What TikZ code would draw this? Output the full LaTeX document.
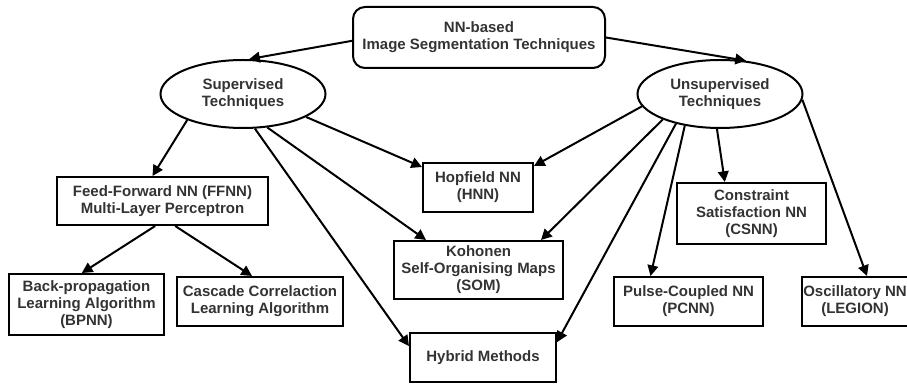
\documentclass[tikz,border=0pt]{standalone}
\usepackage{fontspec}
\setmainfont{Liberation Sans}
\usetikzlibrary{shapes.geometric,arrows.meta}
\begin{document}
\begin{tikzpicture}[x=0.75pt,y=-0.75pt,
		font=\fontsize{11.25pt}{12.75pt}\selectfont\bfseries,
		every node/.style={text=black!80,align=center,inner sep=0pt,line width=1.5pt,draw=black},
		box/.style={rectangle,minimum width=#1},
		oval/.style={ellipse,minimum width=123.75pt,minimum height=51pt},
		link/.style={line width=1.5pt,-{Triangle[length=8pt,width=8pt]}}]
		\useasboundingbox (0,0) rectangle (907,384);
		\clip (0,0) rectangle (907,384);
		
		%draw the root and the two families
		\node[rectangle,rounded corners=9pt,minimum width=189pt,minimum height=45.75pt] (root) at (479,37.5) {NN-based\\Image Segmentation Techniques};
		\node[oval] (sup) at (243,94) {Supervised\\Techniques};
		\node[oval] (unsup) at (720,94) {Unsupervised\\Techniques};
		
		%draw the method boxes
		\node[box=158.25pt,minimum height=36pt] (ffnn) at (162.5,201) {Feed-Forward NN (FFNN)\\Multi-Layer Perceptron};
		\node[box=82.5pt,minimum height=36.75pt] (hnn) at (478,187.5) {Hopfield NN\\(HNN)};
		\node[box=111.75pt,minimum height=45.75pt] (csnn) at (751.5,213.5) {Constraint\\Satisfaction NN\\(CSNN)};
		\node[box=116.25pt,minimum height=45.75pt] (bpnn) at (86.5,304.5) {Back-propagation\\Learning Algorithm\\(BPNN)};
		\node[box=124.5pt,minimum height=36.75pt] (ccla) at (260,301.5) {Cascade Correlaction\\Learning Algorithm};
		\node[box=126.75pt,minimum height=43.5pt] (som) at (478.5,270) {Kohonen\\Self-Organising Maps\\(SOM)};
		\node[box=109.5pt,minimum height=36.75pt] (hyb) at (483,357.5) {Hybrid Methods};
		\node[box=111.75pt,minimum height=36.75pt] (pcnn) at (688.5,301.5) {Pulse-Coupled NN\\(PCNN)};
		\node[box=79.5pt,minimum height=36.75pt] (osc) at (855,301.5) {Oscillatory NN\\(LEGION)};
		
		%draw the connectors
		\draw[link] ([yshift=-2.5pt]root.west) -- (sup.80);
		\draw[link] (root.east) -- (unsup.52);
		\draw[link] (sup.205) -- ([xshift=-7.5pt]ffnn.north);
		\draw[link] (sup.340) -- ([yshift=-3.75pt]hnn.north west);
		\draw[link] (sup.306) -- ([xshift=24.75pt]som.north west);
		\draw[link] (sup.289) -- ([yshift=8.5pt]hyb.west);
		\draw[link] ([xshift=-5.5pt]ffnn.south) -- ([xshift=-3.5pt]bpnn.north);
		\draw[link] ([xshift=9.5pt]ffnn.south) -- ([xshift=-6pt]ccla.north);
		\draw[link] (unsup.189) -- ([yshift=-3pt]hnn.north east);
		\draw[link] (unsup.204) -- ([xshift=-17.25pt]som.north east);
		\draw[link] (unsup.214) -- ([yshift=11.5pt]hyb.east);
		\draw[link] (unsup.222) -- ([xshift=-28.5pt]pcnn.north);
		\draw[link] (unsup.265) -- ([xshift=-20pt]csnn.north);
		\draw[link] (unsup.356) -- ([xshift=9pt]osc.north);
		
	\end{tikzpicture}
\end{document}
